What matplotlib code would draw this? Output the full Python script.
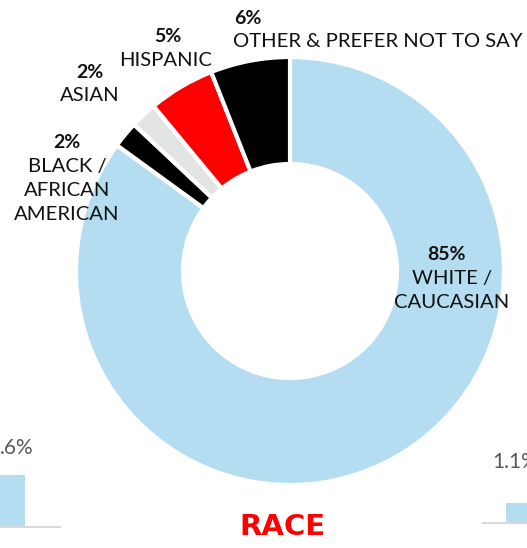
import matplotlib.pyplot as plt

W, H = 527, 548
plt.rcParams['font.family'] = ['Lato', 'DejaVu Sans']

# race breakdown, clockwise from 12 o'clock
races = ['WHITE /\nCAUCASIAN', 'BLACK /\nAFRICAN\nAMERICAN', 'ASIAN', 'HISPANIC',
         'OTHER & PREFER NOT TO SAY']
pcts = [85, 2, 2, 5, 6]
colors = ['#B4DDF2', '#000000', '#E3E4E4', '#FF0000', '#000000']

# the bits of the neighbouring charts that got cut into the picture
left_frag = ['.6%']
right_frag = ['1.1%']


def fx(x):
    return x / W


def fy(y):
    return 1 - y / H


fig = plt.figure(figsize=(W / 100, H / 100), dpi=100)

# donut: centre ~(290,271) px, radius ~214 px
cx, cy, r = 290, 271, 214
ax = fig.add_axes([fx(cx - r), fy(cy + r), 2 * r / W, 2 * r / H])
ax.pie(pcts, colors=colors, startangle=90, counterclock=False,
       wedgeprops=dict(width=0.5, edgecolor='white', linewidth=3))
ax.set_xlim(-1, 1)
ax.set_ylim(-1, 1)
ax.set_aspect('auto')
ax.axis('off')

# labels (percent bold, name underneath)
lab_pos = [(452, 255, 'center', 447), (67, 143, 'center', 67), (90, 72, 'center', 90),
           (166, 37, 'center', 168), (233, 18, 'left', 248)]
for (x, y, ha, px), name, p in zip(lab_pos, races, pcts):
    fig.text(fx(px), fy(y), f'{p}%', ha='center', va='center',
             fontsize=14, fontweight='bold', color='#111111')
    fig.text(fx(x), fy(y + 15), name, ha=ha, va='top', fontsize=14.6,
             color='#111111', linespacing=1.5, multialignment='center')

# fragments of the neighbour charts
axl = fig.add_axes([fx(-50), fy(527), 100 / W, 60 / H])
axl.bar([0], [1], width=0.5, color='#B4DDF2')
axl.set_xlim(-0.5, 0.5)
axl.set_ylim(0, 1.15)
axl.axis('off')
fig.add_artist(plt.Line2D([0, fx(60)], [fy(527), fy(527)], color='#D9D9D9', lw=1.5))
fig.text(fx(0), fy(448), left_frag[0], ha='left', va='center', fontsize=15, color='#595959')

axr = fig.add_axes([fx(495), fy(523), 42 / W, 20 / H])
axr.bar([0], [1], width=0.5, color='#B4DDF2')
axr.set_xlim(-0.5, 0.5)
axr.set_ylim(0, 1)
axr.axis('off')
fig.add_artist(plt.Line2D([fx(483), 1], [fy(523), fy(523)], color='#D9D9D9', lw=1.5))
fig.text(fx(492), fy(462), right_frag[0], ha='left', va='center', fontsize=15, color='#595959')

fig.text(fx(282), fy(527), 'RACE', ha='center', va='center', fontsize=21,
         fontweight='bold', color='#FF0000', family='DejaVu Sans')

fig.savefig('out.png', dpi=100)
